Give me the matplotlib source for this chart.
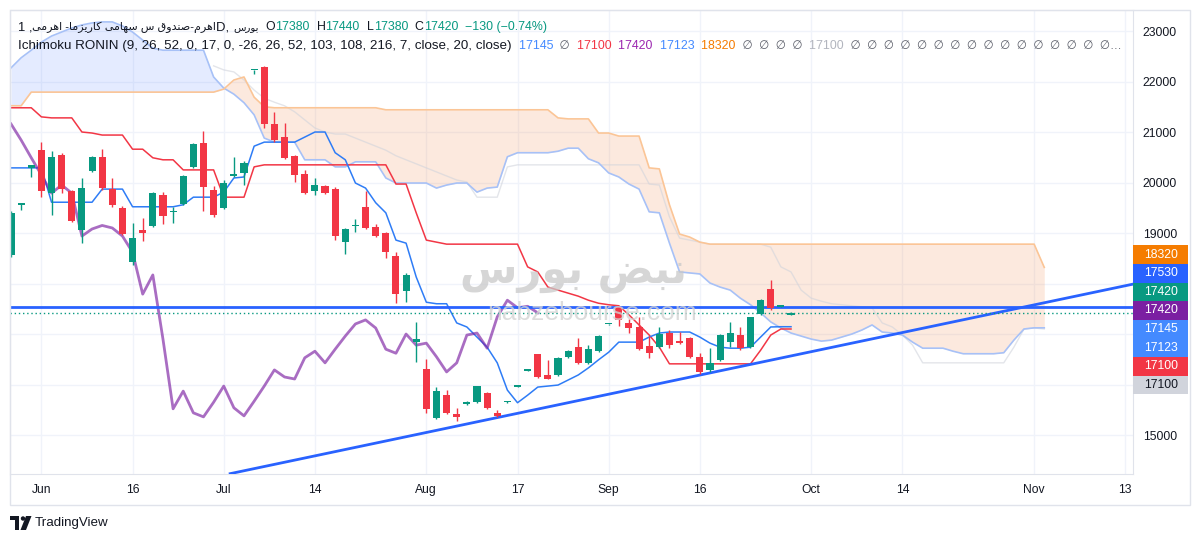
import matplotlib
matplotlib.use("Agg")
import matplotlib.pyplot as plt
from matplotlib.patches import Rectangle, Polygon, Ellipse
import numpy as np

plt.rcParams["font.family"] = ["Liberation Sans", "DejaVu Sans"]

# ---- data (daily bars, index 0 = first visible bar) ----
opens = [18570, 19560, 20290, 20640, 19790, 20550, 19830, 19060, 20230, 20510,
         19870, 19500, 18430, 19060, 19140, 19750, 19410, 19580, 20310, 20780,
         19850, 19500, 20130, 20190, 22220, 22290, 21160, 20900, 20530, 20170,
         19830, 19930, 19870, 18820, 19130, 19520, 19120, 19000, 18550, 17850,
         16840, 16310, 15340, 15790, 15420, 15620, 15650, 15830, 15440, 15650,
         15960, 16270, 16610, 16190, 16190, 16550, 16740, 16430, 16660, 17190,
         17540, 17220, 17140, 16760, 16740, 17020, 16860, 16920, 16550, 16290,
         16490, 16840, 16980, 16740, 17400, 17890, 17540, 17380]
closes = [19400, 19580, 20350, 19830, 20510, 19870, 19240, 19890, 20510, 19890,
          19560, 18980, 18900, 19000, 19790, 19340, 19430, 20130, 20760, 19910,
          19360, 19990, 20150, 20390, 22230, 21160, 20840, 20490, 20150, 19790,
          19950, 19790, 18940, 19080, 19150, 19100, 18940, 18620, 17790, 18170,
          16900, 15520, 15870, 15440, 15360, 15650, 15970, 15540, 15380, 15670,
          15970, 16290, 16150, 16110, 16530, 16660, 16430, 16700, 16960, 17200,
          17280, 17120, 16700, 16620, 17000, 16780, 16820, 16550, 16250, 16430,
          16980, 17020, 16720, 17340, 17670, 17520, 17550, 17420]
highs = [19440, 19580, 20350, 20800, 20620, 20590, 19850, 20090, 20530, 20660,
         20090, 19540, 19200, 19300, 19810, 19810, 19520, 20150, 20780, 21020,
         19930, 20050, 20510, 20430, 22230, 22310, 21400, 21180, 20550, 20250,
         20090, 19950, 19910, 19100, 19280, 19830, 19180, 19020, 18620, 18210,
         17240, 16510, 15950, 15890, 15540, 15670, 15970, 15850, 15500, 15670,
         15980, 16290, 16610, 16490, 16550, 16680, 16920, 16780, 16980, 17200,
         17560, 17300, 17340, 16960, 17140, 17080, 17040, 16940, 16630, 16720,
         17000, 17240, 17140, 17340, 17690, 18070, 17560, 17440]
lows = [18530, 19460, 20110, 19710, 19360, 19790, 19220, 18800, 20210, 19850,
        19520, 18960, 18370, 18840, 19120, 19180, 19200, 19560, 20290, 19440,
        19320, 19480, 20110, 19950, 22150, 21080, 20800, 20470, 20010, 19770,
        19750, 19770, 18860, 18590, 19020, 19080, 18920, 18510, 17610, 17630,
        16450, 15440, 15320, 15420, 15280, 15600, 15630, 15520, 15360, 15630,
        15950, 16260, 16130, 16110, 16170, 16530, 16410, 16410, 16640, 17180,
        17160, 17020, 16680, 16530, 16720, 16720, 16800, 16530, 16210, 16250,
        16470, 16740, 16680, 16720, 17380, 17480, 17530, 17380]

tenkan = [20290, 20290, 20290, 20290, 19610, 19610, 19610, 19610, 19610, 19870,
          19870, 19870, 19520, 19520, 19520, 19520, 19520, 19560, 19710, 19710,
          19710, 19810, 20090, 20110, 20720, 20800, 20800, 20800, 20800, 20900,
          21000, 21000, 20590, 20450, 19990, 19890, 19600, 19400, 18860, 18800,
          18130, 17630, 17600, 17600, 17220, 17140, 16940, 16740, 16430, 15890,
          15640, 15790, 15950, 15970, 15990, 16090, 16190, 16330, 16490, 16640,
          16840, 16840, 16840, 16940, 17020, 17040, 17040, 17040, 16940, 16820,
          16740, 16720, 16720, 16740, 16940, 17140, 17145, 17145]
kijun = [21480, 21480, 21480, 21300, 21280, 21280, 21280, 21000, 20980, 20940,
         20940, 20940, 20660, 20660, 20490, 20450, 20450, 20250, 20250, 20250,
         20250, 19710, 19710, 19710, 20310, 20350, 20350, 20350, 20350, 20350,
         20350, 20350, 20350, 20350, 20350, 20350, 20350, 20350, 19970, 19970,
         19400, 18860, 18820, 18780, 18780, 18780, 18780, 18780, 18780, 18780,
         18780, 18330, 18230, 17930, 17870, 17810, 17750, 17670, 17610, 17580,
         17560, 17380, 17180, 16980, 16740, 16410, 16410, 16410, 16410, 16410,
         16410, 16410, 16410, 16410, 16680, 16980, 17100, 17100]

# leading spans, already shifted forward (index 0..102)
span_a = [22270, 22470, 22620, 22780, 22900, 22980, 23060, 23120, 23160, 23180,
          23180, 23100, 22980, 22820, 22660, 22620, 22620, 22620, 22620, 22620,
          22090, 21870, 21750, 21580, 21340, 20880, 20800, 20800, 20800, 20450,
          20450, 20450, 20310, 20310, 20410, 20410, 20410, 20090, 19990, 19990,
          19990, 19990, 19890, 19950, 19990, 19990, 19810, 19890, 19910, 20510,
          20590, 20590, 20590, 20590, 20620, 20680, 20680, 20470, 20390, 20190,
          20110, 19970, 19870, 19420, 19400, 18800, 18230, 18210, 18190, 18010,
          17930, 17870, 17710, 17580, 17420, 17240, 17120, 17020, 16960, 16900,
          16860, 16880, 16940, 17000, 17080, 17180, 17040, 17020, 16980, 16840,
          16720, 16720, 16720, 16660, 16610, 16610, 16610, 16610, 16630, 16880,
          17100, 17123, 17123]
span_b = [21520, 21520, 21790, 21790, 21790, 21790, 21790, 21790, 21790, 21790,
          21790, 21790, 21790, 21790, 21790, 21790, 21790, 21790, 21790, 21790,
          21790, 21850, 22030, 22090, 21690, 21500, 21480, 21480, 21480, 21480,
          21480, 21480, 21480, 21480, 21480, 21480, 21480, 21440, 21440, 21440,
          21440, 21440, 21440, 21440, 21440, 21440, 21440, 21440, 21440, 21440,
          21440, 21440, 21440, 21440, 21280, 21260, 21260, 21260, 20980, 20980,
          20920, 20920, 20920, 20290, 20270, 19560, 18980, 18920, 18820, 18780,
          18780, 18780, 18780, 18780, 18780, 18780, 18780, 18780, 18780, 18780,
          18780, 18780, 18780, 18780, 18780, 18780, 18780, 18780, 18780, 18780,
          18780, 18780, 18780, 18780, 18780, 18780, 18780, 18780, 18780, 18780,
          18780, 18780, 18320]
# faint grey span, starts at index 20
grey_start = 20
grey_span = [22310, 22230, 22190, 22030, 21830, 21670, 21590, 21520, 21400, 21240,
             21080, 21000, 20960, 20960, 20880, 20800, 20720, 20640, 20530, 20450,
             20370, 20290, 20210, 20130, 20050, 20010, 19710, 19710, 19710, 20310,
             20350, 20350, 20350, 20350, 20350, 20350, 20350, 20350, 20350, 20350,
             20350, 20350, 20350, 19970, 19950, 19320, 18900, 18860, 18820, 18780,
             18780, 18780, 18780, 18780, 18780, 18720, 18330, 18230, 17870, 17710,
             17650, 17600, 17580, 17560, 17540, 17520, 17220, 17140, 16980, 16780,
             16430, 16430, 16430, 16430, 16430, 16430, 16430, 16430, 16430, 16740,
             17100, 17120, 17100]
chikou_shift = 25

hline_level = 17530
trend_x = [21.5, 110.8]
trend_y = [14230, 17990]

tick_pos = [3, 12, 21, 30, 41, 50, 59, 68, 79, 88, 101, 110]
tick_lab = ["Jun", "16", "Jul", "14", "Aug", "17", "Sep", "16", "Oct", "14", "Nov", "13"]
price_ticks = list(range(15000, 24000, 1000))
hidden_ticks = [16000, 17000, 18000]  # covered by the price labels

price_labels = [18320, 17530, 17420, 17420, 17145, 17123, 17100, 17100]
label_cols = ["#f57c00", "#2962ff", "#089981", "#7b1fa2", "#448aff", "#448aff", "#f23645", "#d1d4dc"]
label_txt = ["white"] * 7 + ["#131722"]

GREEN = "#089981"
RED = "#f23645"
DARK = "#131722"
GRAY = "#5d606b"

# ---- small helper to draw Persian text (shape + visual order) ----
FORMS = {
    "ا": ("\uFE8D", "\uFE8E", None, None),
    "ب": ("\uFE8F", "\uFE90", "\uFE91", "\uFE92"),
    "د": ("\uFEA9", "\uFEAA", None, None),
    "ر": ("\uFEAD", "\uFEAE", None, None),
    "ز": ("\uFEAF", "\uFEB0", None, None),
    "س": ("\uFEB1", "\uFEB2", "\uFEB3", "\uFEB4"),
    "ص": ("\uFEB9", "\uFEBA", "\uFEBB", "\uFEBC"),
    "ض": ("\uFEBD", "\uFEBE", "\uFEBF", "\uFEC0"),
    "ق": ("\uFED5", "\uFED6", "\uFED7", "\uFED8"),
    "م": ("\uFEE1", "\uFEE2", "\uFEE3", "\uFEE4"),
    "ن": ("\uFEE5", "\uFEE6", "\uFEE7", "\uFEE8"),
    "ه": ("\uFEE9", "\uFEEA", "\uFEEB", "\uFEEC"),
    "و": ("\uFEED", "\uFEEE", None, None),
    "ی": ("\uFBFC", "\uFBFD", "\uFBFE", "\uFBFF"),
    "ک": ("\uFB8E", "\uFB8F", "\uFB90", "\uFB91"),
}


def shape(s):
    out = []
    for k, ch in enumerate(s):
        f = FORMS.get(ch)
        if f is None:
            out.append(ch)
            continue
        prev = s[k - 1] if k > 0 else ""
        nxt = s[k + 1] if k + 1 < len(s) else ""
        jp = prev in FORMS and FORMS[prev][2] is not None
        jn = nxt in FORMS and f[2] is not None
        if jp and jn:
            out.append(f[3])
        elif jp:
            out.append(f[1])
        elif jn:
            out.append(f[2])
        else:
            out.append(f[0])
    return "".join(reversed(out))


W, H = 1200, 543
fig = plt.figure(figsize=(12, 5.43), dpi=100)
ax = fig.add_axes([10 / W, 1 - 474 / H, 1123 / W, 464 / H])


def fx(px):
    return px / W


def fy(py):
    return 1 - py / H


ymin, ymax = 14229, 23416
ax.set_xlim(-0.1, 110.76)
ax.set_ylim(ymin, ymax)

# watermark
fig.text(fx(573), fy(272), shape("نبض بورس"), family="DejaVu Sans", fontsize=30,
         fontweight="bold", color="#c9c9c9", alpha=0.75, ha="center", va="center", zorder=0)
fig.text(fx(592), fy(313), "nabzebourse.com", fontsize=19, color="#d4d4d4",
         alpha=0.8, ha="center", va="center", zorder=0)

# cloud
ci = np.arange(len(span_a))
a = np.array(span_a)
b = np.array(span_b)
ax.fill_between(ci, a, b, where=a >= b, interpolate=True, color="#2962ff", alpha=0.12, lw=0, zorder=1)
ax.fill_between(ci, a, b, where=a < b, interpolate=True, color="#f0803c", alpha=0.17, lw=0, zorder=1)
ax.plot(np.arange(grey_start, grey_start + len(grey_span)), grey_span, color="#d1d4dc", lw=1, alpha=0.6, zorder=2)
ax.plot(ci, a, color="#a7c1f7", lw=1.2, zorder=2)
ax.plot(ci, b, color="#fbc596", lw=1.2, zorder=2)

# ichimoku lines
idx = np.arange(len(opens))
ax.plot(idx, kijun, color="#f23645", lw=1.1, zorder=3)
ax.plot(idx, tenkan, color="#2e7cf6", lw=1.1, zorder=3)
cl = np.array(closes)
ax.plot(np.arange(len(cl) - chikou_shift), cl[chikou_shift:], color="#7b1fa2", alpha=0.65, lw=2, zorder=3)

# drawings
ax.axhline(hline_level, color="#2962ff", lw=2.0, zorder=4)
ax.plot(trend_x, trend_y, color="#2962ff", lw=2.0, zorder=4, solid_capstyle="butt")
ax.axhline(closes[-1], color=GREEN, lw=1, ls=(0, (1, 2)), zorder=4)

# candles
o = np.array(opens)
c = np.array(closes)
cols = np.where(c >= o, GREEN, RED)
ax.vlines(idx, lows, highs, colors=cols, lw=1, zorder=5)
ax.bar(idx, np.maximum(np.abs(c - o), 30), bottom=np.minimum(o, c), width=0.7,
       color=cols, lw=0, zorder=6)

# axes styling
ax.set_yticks(price_ticks)
ax.set_yticklabels(["" if t in hidden_ticks else str(t) for t in price_ticks])
ax.set_xticks(tick_pos)
ax.set_xticklabels(tick_lab)
ax.grid(color="#f0f3fa", lw=1, zorder=0)
ax.set_axisbelow(True)
ax.yaxis.tick_right()
ax.tick_params(axis="y", length=0, pad=7, labelsize=8.7, labelcolor=DARK)
ax.tick_params(axis="x", length=0, pad=7, labelsize=8.7, labelcolor=DARK)
for sp in ax.spines.values():
    sp.set_color("#e0e3eb")

# outer frame
fig.patches.append(Rectangle((fx(10), fy(505)), fx(1180), 495 / H, transform=fig.transFigure,
                             fill=False, edgecolor="#e0e3eb", lw=1))

# right-hand price labels, stacked so they do not overlap
ppx = 464 / (ymax - ymin)
ys = [10 + (ymax - v) * ppx for v in price_labels]
hh = 18.6
groups = [[y] for y in ys]
merged = True
while merged:
    merged = False
    for k in range(len(groups) - 1):
        c1, c2 = np.median(groups[k]), np.median(groups[k + 1])
        if c1 + len(groups[k]) * hh / 2 > c2 - len(groups[k + 1]) * hh / 2:
            groups[k] = groups[k] + groups[k + 1]
            del groups[k + 1]
            merged = True
            break
stacked = []
for g in groups:
    m = np.median(g)
    stacked += [m + (j - (len(g) - 1) / 2) * hh for j in range(len(g))]
for v, y, bc, tc in zip(price_labels, stacked, label_cols, label_txt):
    fig.patches.append(Rectangle((fx(1133), fy(y + hh / 2)), 55 / W, hh / H,
                                 transform=fig.transFigure, facecolor=bc, edgecolor="none", zorder=10))
    fig.text(fx(1161), fy(y), str(v), color=tc, fontsize=8.8, ha="center", va="center", zorder=11)


# header legend: consecutive coloured pieces (text, colour, size)
def header(x, y, parts):
    s, col, size = parts[0]
    t = fig.text(fx(x), fy(y), s, color=col, fontsize=size, va="center", zorder=12)
    for s, col, size in parts[1:]:
        t = ax.annotate(s, xy=(1, 0.5), xycoords=t, color=col, fontsize=size,
                        va="center", ha="left", annotation_clip=False, zorder=12)


NUM = 8.9
header(18, 27, [("1 ,", DARK, 9.4),
                (shape("اهرم-صندوق س سهامی کاریزما- اهرمی"), DARK, 8.0),
                ("D, ", DARK, 9.4), (shape("بورس"), DARK, 7.4),
                ("  O", DARK, NUM), ("17380", GREEN, NUM), ("  H", DARK, NUM), ("17440", GREEN, NUM),
                ("  L", DARK, NUM), ("17380", GREEN, NUM), ("  C", DARK, NUM), ("17420", GREEN, NUM),
                ("  \u2212130 (\u22120.74%)", GREEN, NUM)])
empty = "\u2205"
header(18, 46, [("Ichimoku RONIN (9, 26, 52, 0, 17, 0, -26, 26, 52, 103, 108, 216, 7, close, 20, close)", DARK, 9.6),
                ("  17145", "#448aff", NUM), ("  " + empty, GRAY, 8.4), ("  17100", RED, NUM),
                ("  17420", "#9c27b0", NUM), ("  17123", "#448aff", NUM), ("  18320", "#f57c00", NUM),
                ("  " + "  ".join([empty] * 4), GRAY, 8.4), ("  17100", "#b2b5be", NUM),
                ("  " + "  ".join([empty] * 16) + "\u2026", GRAY, 8.4)])

# TradingView logo
tvk = dict(transform=fig.transFigure, facecolor=DARK, edgecolor="none")
fig.patches.append(Rectangle((fx(10), fy(520)), 9 / W, 4 / H, **tvk))
fig.patches.append(Rectangle((fx(15), fy(530)), 4 / W, 14 / H, **tvk))
fig.patches.append(Ellipse((fx(23), fy(518.5)), 4.4 / W, 4.4 / H, **tvk))
fig.patches.append(Polygon([(fx(26), fy(516)), (fx(31.5), fy(516)), (fx(26), fy(530)), (fx(20.5), fy(530))], **tvk))
fig.text(fx(35), fy(523), "TradingView", fontsize=9.6, color=DARK, va="center")

fig.savefig("out.png", dpi=100)
